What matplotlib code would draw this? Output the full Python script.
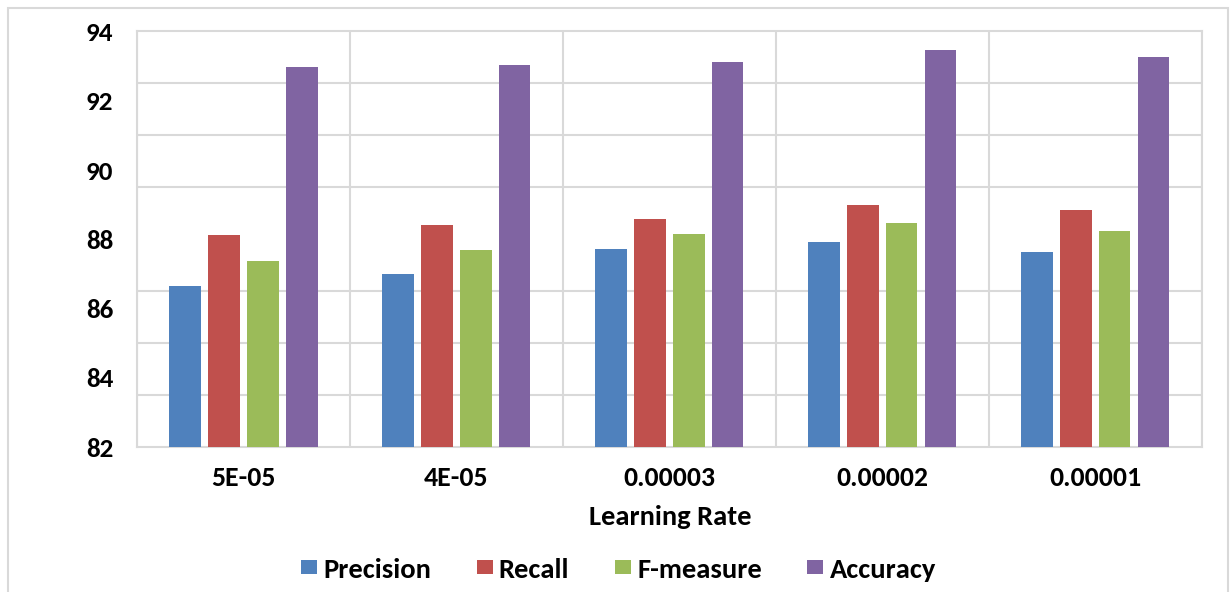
import numpy as np
import matplotlib.pyplot as plt
from matplotlib.patches import Rectangle

plt.rcParams['font.family'] = ['Carlito', 'Roboto', 'DejaVu Sans']
plt.rcParams['font.weight'] = 'bold'

rates = ['5E-05', '4E-05', '0.00003', '0.00002', '0.00001']
precision = [86.65, 87.0, 87.72, 87.92, 87.64]
recall = [88.13, 88.42, 88.59, 88.99, 88.85]
fmeasure = [87.38, 87.69, 88.16, 88.47, 88.24]
accuracy = [92.98, 93.04, 93.13, 93.47, 93.27]

series = [('Precision', precision, '#4F81BD'),
          ('Recall', recall, '#C0504D'),
          ('F-measure', fmeasure, '#9BBB59'),
          ('Accuracy', accuracy, '#8064A2')]

fig = plt.figure(figsize=(12.32, 5.92), dpi=100)
ax = fig.add_axes([0.1112, 0.2449, 0.8644, 0.7019])

x = np.arange(len(rates))
step = 0.183
width = 0.146
for i, (name, vals, col) in enumerate(series):
    ax.bar(x + (i - 1.5) * step, np.array(vals) - 82, width, bottom=82,
           color=col, label=name, zorder=3)

ax.set_xlim(-0.5, len(rates) - 0.5)
ax.set_ylim(82, 94)
ax.set_yticks(np.arange(82, 95, 2))
ax.set_yticks(np.arange(82, 94.1, 1.5), minor=True)
ax.set_xticks(x)
ax.set_xticklabels(rates)
ax.set_xticks(np.arange(-0.5, len(rates), 1), minor=True)
ax.tick_params(axis='both', which='both', length=0)
ax.tick_params(axis='y', labelsize=19.5, pad=17)
ax.tick_params(axis='x', labelsize=20, pad=14)
for lab in ax.get_xticklabels() + ax.get_yticklabels():
    lab.set_fontweight('bold')
ax.grid(True, which='minor', color='#d9d9d9', linewidth=1.5, zorder=0)
for s in ax.spines.values():
    s.set_color('#d9d9d9')
    s.set_linewidth(1.5)

fig.text(0.544, 0.127, 'Learning Rate', ha='center', va='center',
         fontsize=20.5, fontweight='bold')

fig.legend(loc='center', bbox_to_anchor=(0.502, 0.038), ncol=4, frameon=False,
           prop={'size': 20.5, 'weight': 'bold'},
           handlelength=0.56, handleheight=0.39, handletextpad=0.22,
           columnspacing=1.6)

fig.patches.append(Rectangle((8 / 1232, -0.01), 1220 / 1232, 1 - 8 / 592 + 0.01,
                             transform=fig.transFigure, fill=False,
                             edgecolor='#d9d9d9', linewidth=1.5))

fig.savefig('out.png', dpi=100)
